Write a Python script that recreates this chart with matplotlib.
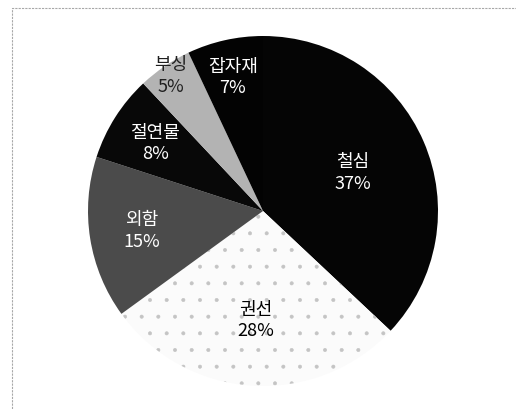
import matplotlib.pyplot as plt
from matplotlib.patches import Rectangle
import numpy as np

plt.rcParams['font.family'] = ['Noto Sans CJK KR', 'DejaVu Sans']
plt.rcParams['hatch.linewidth'] = 0.4

# 데이터
labels = ['철심', '권선', '외함', '절연물', '부싱', '잡자재']
values = [37, 28, 15, 8, 5, 7]
colors = ['#050505', '#fbfbfb', '#4b4b4b', '#080808', '#b3b3b3', '#030303']
text_colors = ['white', 'black', 'white', 'white', '#202020', 'white']
label_r = [0.56, 0.62, 0.70, 0.73, 0.94, 0.79]

fig = plt.figure(figsize=(5.16, 4.10), dpi=100)

# 바깥 테두리 (스캔 프레임)
fig.patches.append(Rectangle((12 / 516, -0.1), 1.2, (410 - 9) / 410 + 0.1,
                             transform=fig.transFigure, fill=False,
                             edgecolor='#a8a8a8', linewidth=0.8, linestyle=(0, (2, 1))))

ax = fig.add_axes([88 / 516, 23 / 410, 350 / 516, 350 / 410])
wedges, _ = ax.pie(values, colors=colors, startangle=90, counterclock=False,
                   wedgeprops=dict(linewidth=0))

# 권선: 점 무늬
wedges[1].set_hatch('.')
wedges[1].set_edgecolor('#c4c4c4')
wedges[1].set_linewidth(0)

for w, lab, v, tc, r in zip(wedges, labels, values, text_colors, label_r):
    ang = np.deg2rad((w.theta1 + w.theta2) / 2)
    ax.text(r * np.cos(ang), r * np.sin(ang), f'{lab}\n{v}%', ha='center', va='center',
            color=tc, fontsize=13, linespacing=1.25)

ax.set_xlim(-1, 1)
ax.set_ylim(-1, 1)
ax.axis('off')

fig.savefig('out.png', dpi=100)
